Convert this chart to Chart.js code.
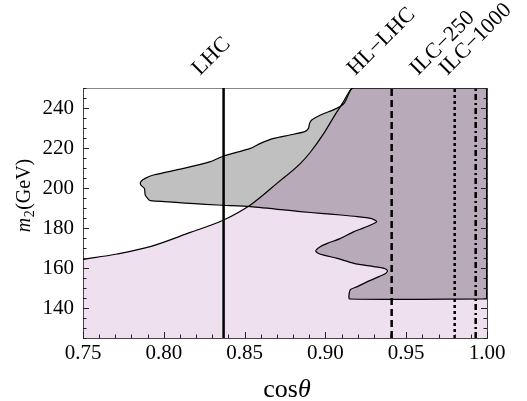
<!DOCTYPE html>
<html>
<head>
<meta charset="utf-8">
<script src="https://cdn.jsdelivr.net/npm/chart.js@4.4.0/dist/chart.umd.min.js"></script>
<style>
  html, body { margin: 0; padding: 0; background: #fff; }
</style>
</head>
<body>
<canvas id="myChart" width="527" height="401"></canvas>
<script>
// axes
var xTicks = [0.75, 0.80, 0.85, 0.90, 0.95, 1.00];
var yTicks = [140, 160, 180, 200, 220, 240];
var xRange = [0.75, 1.00];
var yRange = [125, 250];

// experiments (vertical lines, labelled on top)
var expNames = ['LHC', 'HL\u2212LHC', 'ILC\u2212250', 'ILC\u22121000'];
var expCos = [0.837, 0.941, 0.980, 0.993];

// pink region: upper edge, cos(theta) -> m2
var pinkCos = [0.75, 0.771, 0.7916, 0.8164, 0.837, 0.8536, 0.870, 0.8846, 0.8908, 0.899, 0.9053, 0.9105, 0.9146, 0.9167, 1.00];
var pinkM2 = [164.3, 167, 170.7, 177.8, 184, 191.5, 202.3, 212.3, 218, 227.3, 235.7, 242.3, 248, 250, 250];

// gray region: left edge, m2 -> cos(theta)
var grayM2 = [144.5, 144.5, 146.5, 149.3, 150.7, 153.2, 155.7, 157.3, 158.7, 159.8,
  160.7, 162.3, 164.8, 167, 168.5, 170.7, 172.3, 174.8, 178.2, 179.8,
  181.5, 183.2, 184.8, 185.7, 186.5, 187.3, 188.2, 190.7, 191.5, 193.7,
  194.3, 196.5, 199.8, 201.5, 203.2, 204.8, 206.5, 209.8, 213.2, 216,
  219.8, 222.3, 224.8, 226.5, 228.2, 229.8, 232.3, 234, 236.5, 239.8,
  242.3, 249, 250, 250];
var grayCos = [1.00, 0.915, 0.9146, 0.9156, 0.9198, 0.926, 0.9332, 0.9373, 0.9384, 0.9363,
  0.930, 0.9176, 0.9074, 0.8965, 0.894, 0.897, 0.9012, 0.9094, 0.9177, 0.9229,
  0.928, 0.9318, 0.928, 0.9198, 0.9094, 0.897, 0.8846, 0.8536, 0.833, 0.7916,
  0.7905, 0.7885, 0.788, 0.7858, 0.7858, 0.7885, 0.7936, 0.8122, 0.8288, 0.837,
  0.8536, 0.8598, 0.868, 0.878, 0.8872, 0.8895, 0.8902, 0.8915, 0.897, 0.907,
  0.9115, 0.9156, 0.9175, 1.00];

var serif = '"Liberation Serif", "Times New Roman", serif';
var frameColor = '#444';
var expDash = [[], [7, 4], [3, 3], [6, 3, 2, 3]];
var expLabelDx = [0, 2, 0, 12];   // nudge so neighbouring labels do not collide

Chart.defaults.font.family = serif;
Chart.defaults.color = '#000';

var datasets = [];

datasets.push({
    label: 'pink',
    data: pinkCos.map(function (c, i) { return {x: c, y: pinkM2[i]}; }),
    borderColor: '#000',
    borderWidth: 1.2,
    backgroundColor: 'rgba(134, 34, 134, 0.14)',
    fill: 'start',
    pointRadius: 0,
    cubicInterpolationMode: 'monotone'
});

datasets.push({
    label: 'gray',
    indexAxis: 'y',
    data: grayM2.map(function (m, i) { return {x: grayCos[i], y: m}; }),
    borderColor: '#000',
    borderWidth: 1.2,
    backgroundColor: '#c0c0c0',
    fill: {value: xRange[1]},
    pointRadius: 0,
    tension: 0.25
});

// closing edge of the gray region along cos = 1
datasets.push({
    label: 'grayEdge',
    data: [{x: grayCos[0], y: grayM2[0]}, {x: grayCos[0], y: grayM2[grayM2.length - 1]}],
    borderColor: '#000',
    borderWidth: 2,
    pointRadius: 0,
    fill: false
});

expCos.forEach(function (c, i) {
    datasets.push({
        label: expNames[i],
        data: [{x: c, y: yRange[0]}, {x: c, y: yRange[1]}],
        borderColor: '#000',
        borderWidth: 2.5,
        borderDash: expDash[i],
        pointRadius: 0,
        fill: false
    });
});

// inward frame ticks
var frameTicks = {
    id: 'frameTicks',
    afterDatasetsDraw: function (chart) {
        var ctx = chart.ctx, a = chart.chartArea;
        var xs = chart.scales.x, ys = chart.scales.y;
        ctx.save();
        ctx.strokeStyle = '#222';
        ctx.lineWidth = 1;
        ctx.beginPath();
        for (var i = 0; i <= 25; i++) {
            var v = xs.min + i * 0.01;
            var px = Math.round(xs.getPixelForValue(v)) + 0.5;
            var major = xTicks.some(function (t) { return Math.abs(t - v) < 1e-6; });
            var len = major ? 6 : 3.5;
            ctx.moveTo(px, a.bottom);
            ctx.lineTo(px, a.bottom - len);
        }
        for (var m = ys.min; m <= ys.max; m += 5) {
            var py = Math.round(ys.getPixelForValue(m)) + 0.5;
            var len2 = yTicks.indexOf(m) >= 0 ? 6 : 3.5;
            ctx.moveTo(a.left, py);
            ctx.lineTo(a.left + len2, py);
            ctx.moveTo(a.right, py);
            ctx.lineTo(a.right - len2, py);
        }
        ctx.stroke();
        ctx.restore();
    }
};

// rotated experiment names above the frame, centred on their lines
var topLabels = {
    id: 'topLabels',
    afterDraw: function (chart) {
        var ctx = chart.ctx, xs = chart.scales.x2, a = chart.chartArea;
        ctx.save();
        ctx.fillStyle = '#000';
        ctx.font = '22px ' + serif;
        ctx.textBaseline = 'alphabetic';
        expCos.forEach(function (c, i) {
            var t = xs.getPixelForValue(c);
            var w = ctx.measureText(expNames[i]).width;
            var sx = t - w / (2 * Math.SQRT2) - 8 + expLabelDx[i];
            ctx.save();
            ctx.translate(sx, a.top - 12);
            ctx.rotate(-Math.PI / 4);
            ctx.fillText(expNames[i], 0, 0);
            ctx.restore();
        });
        ctx.restore();
    }
};

// axis titles with italic pieces
var axisTitles = {
    id: 'axisTitles',
    afterDraw: function (chart) {
        var ctx = chart.ctx, a = chart.chartArea;
        ctx.save();
        ctx.fillStyle = '#000';
        ctx.textBaseline = 'alphabetic';
        // x title: cos θ
        var fN = '26px ' + serif, fI = 'italic 26px ' + serif;
        ctx.font = fN; var w1 = ctx.measureText('cos').width;
        ctx.font = fI; var w2 = ctx.measureText('\u03b8').width;
        var x0 = (a.left + a.right) / 2 + 2 - (w1 + w2) / 2;
        ctx.font = fN; ctx.fillText('cos', x0, 397);
        ctx.font = fI; ctx.fillText('\u03b8', x0 + w1, 397);
        // y title: m2 (GeV)
        var gN = '20px ' + serif, gI = 'italic 20px ' + serif, gS = '14px ' + serif;
        ctx.font = gI; var v1 = ctx.measureText('m').width;
        ctx.font = gS; var v2 = ctx.measureText('2').width;
        ctx.font = gN; var v3 = ctx.measureText('(GeV)').width;
        ctx.translate(30, 196);
        ctx.rotate(-Math.PI / 2);
        var s = -(v1 + v2 + v3) / 2;
        ctx.font = gI; ctx.fillText('m', s, 0);
        ctx.font = gS; ctx.fillText('2', s + v1 + 0.5, 4);
        ctx.font = gN; ctx.fillText('(GeV)', s + v1 + v2 + 1, 0);
        ctx.restore();
    }
};

function noSidePadding(s) {
    s.paddingLeft = 0;
    s.paddingRight = 0;
}

new Chart(document.getElementById('myChart'), {
    type: 'line',
    data: { datasets: datasets },
    plugins: [frameTicks, topLabels, axisTitles],
    options: {
        responsive: false,
        animation: false,
        devicePixelRatio: 1,
        layout: { padding: 0 },
        plugins: {
            legend: { display: false },
            tooltip: { enabled: false },
            filler: { drawTime: 'beforeDatasetsDraw' }
        },
        scales: {
            x: {
                type: 'linear', position: 'bottom',
                min: xRange[0], max: xRange[1],
                afterBuildTicks: function (s) { s.ticks = xTicks.map(function (v) { return {value: v}; }); },
                afterFit: function (s) { s.height = 63; noSidePadding(s); },
                grid: { display: false, drawTicks: false },
                border: { display: true, color: frameColor, width: 1 },
                ticks: {
                    padding: 3,
                    font: { size: 21, family: serif },
                    color: '#000',
                    maxRotation: 0,
                    callback: function (v) { return Number(v).toFixed(2); }
                }
            },
            x2: {
                type: 'linear', position: 'top',
                min: xRange[0], max: xRange[1],
                afterFit: function (s) { s.height = 88; noSidePadding(s); },
                grid: { display: false, drawTicks: false },
                border: { display: true, color: '#888', width: 1 },
                ticks: { display: false }
            },
            y: {
                type: 'linear', position: 'left',
                min: yRange[0], max: yRange[1],
                afterBuildTicks: function (s) { s.ticks = yTicks.map(function (v) { return {value: v}; }); },
                afterFit: function (s) { s.width = 83; },
                grid: { display: false, drawTicks: false },
                border: { display: true, color: frameColor, width: 1 },
                ticks: {
                    padding: 9,
                    font: { size: 21, family: serif },
                    color: '#000'
                }
            },
            y2: {
                type: 'linear', position: 'right',
                min: yRange[0], max: yRange[1],
                afterFit: function (s) { s.width = 40; },
                grid: { display: false, drawTicks: false },
                border: { display: true, color: frameColor, width: 1 },
                ticks: { display: false }
            }
        }
    }
});
</script>
</body>
</html>
